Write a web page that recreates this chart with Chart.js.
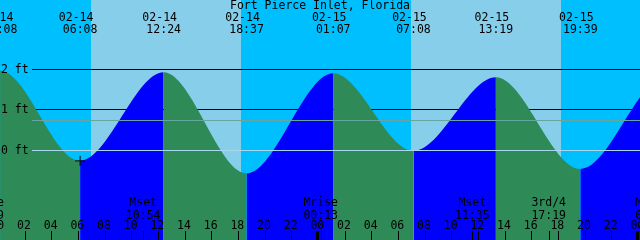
<!DOCTYPE html>
<html>
<head>
<meta charset="utf-8">
<script src="https://cdn.jsdelivr.net/npm/chart.js@4.4.1/dist/chart.umd.min.js"></script>
<style>
  html, body { margin: 0; padding: 0; background: #00bfff; overflow: hidden; }
  canvas { display: block; }
</style>
</head>
<body>
<canvas id="tide" width="640" height="240"></canvas>
<script>
const title = 'Fort Pierce Inlet, Florida';

// tide turning points, local time, heights in ft (first two and last two are off screen)
const tideDates = ['02-13', '02-13', '02-14', '02-14', '02-14', '02-14', '02-15', '02-15', '02-15', '02-15', '02-16', '02-16'];
const tideTimes = ['11:40', '17:52', '00:08', '06:08', '12:24', '18:37', '01:07', '07:08', '13:19', '19:39', '02:10', '08:15'];
const tideHeights = [1.9, -0.6, 1.97, -0.27, 1.93, -0.58, 1.91, -0.02, 1.81, -0.47, 1.85, 0.0];

// daylight
const sunDates = ['02-14', '02-15'];
const sunrise = ['06:57', '06:57'];
const sunset = ['18:13', '18:12'];

// moon events along the bottom
const moonDates = ['02-13', '02-14', '02-15', '02-15', '02-15', '02-16'];
const moonTimes = ['23:09', '10:54', '00:13', '11:35', '17:19', '01:06'];
const moonEvents = ['Mrise', 'Mset', 'Mrise', 'Mset', '3rd/4', 'Mrise'];

// height guides
const gridLevels = [2, 1, 0];
const gridLabels = ['2 ft', '1 ft', '0 ft'];
const meanLevel = 0.73;

// "+" marker
const markerDates = ['02-14'];
const markerTimes = ['06:08'];
const markerHeights = [-0.27];

const NIGHT = '#00bfff';
const DAY = '#87ceeb';
const FALL = '#2e8b57';
const RISE = '#0000ff';
const FONT = '11.5px "DejaVu Sans Mono"';

const dayIndex = { '02-13': -1, '02-14': 0, '02-15': 1, '02-16': 2 };
const toHours = (d, t) => {
  const [h, m] = t.split(':').map(Number);
  return dayIndex[d] * 24 + h + m / 60;
};

const tidePoints = tideDates.map((d, i) => ({ x: toHours(d, tideTimes[i]), y: tideHeights[i] }));
const markerPoints = markerDates.map((d, i) => ({ x: toHours(d, markerTimes[i]), y: markerHeights[i] }));

function hline(ctx, yScale, v, x0, x1) {
  const py = Math.floor(yScale.getPixelForValue(v)) + 0.5;
  ctx.beginPath();
  ctx.moveTo(x0, py);
  ctx.lineTo(x1, py);
  ctx.stroke();
}

const decor = {
  id: 'decor',
  beforeDatasetsDraw(chart) {
    const { ctx, chartArea: a, scales: { x, y } } = chart;
    ctx.save();
    ctx.fillStyle = NIGHT;
    ctx.fillRect(0, 0, chart.width, chart.height);
    ctx.fillStyle = DAY;
    sunDates.forEach((d, i) => {
      const x0 = Math.round(x.getPixelForValue(toHours(d, sunrise[i])));
      const x1 = Math.round(x.getPixelForValue(toHours(d, sunset[i])));
      ctx.fillRect(x0, a.top, x1 - x0, a.height);
    });
    // black guides go behind the water
    ctx.strokeStyle = '#000';
    ctx.lineWidth = 1;
    hline(ctx, y, gridLevels[0], 32, a.right);
    hline(ctx, y, gridLevels[1], 35, a.right);
    ctx.restore();
  },
  afterDatasetsDraw(chart) {
    const { ctx, chartArea: a, scales: { x, y } } = chart;
    ctx.save();
    ctx.lineWidth = 1;
    ctx.strokeStyle = '#66a5a0';
    hline(ctx, y, meanLevel, 32, a.right);
    ctx.strokeStyle = '#a8d8ec';
    hline(ctx, y, gridLevels[2], 32, a.right);

    ctx.fillStyle = '#000';
    ctx.font = FONT;
    ctx.textBaseline = 'alphabetic';

    // y labels
    ctx.textAlign = 'left';
    gridLevels.forEach((v, i) => {
      ctx.fillText(gridLabels[i], 1, Math.floor(y.getPixelForValue(v)) + 4);
    });

    ctx.textAlign = 'center';
    ctx.fillText(title, 320, 9);

    // tide times along the top
    tidePoints.forEach((p, i) => {
      if (p.x < 0 || p.x > 48) return;
      const px = x.getPixelForValue(p.x);
      ctx.fillText(tideDates[i], px - 4, 21);
      ctx.fillText(tideTimes[i], px, 33);
    });

    // moon events
    moonDates.forEach((d, i) => {
      const px = x.getPixelForValue(toHours(d, moonTimes[i]));
      ctx.fillText(moonEvents[i], px - 0.5, 206);
      ctx.fillText(moonTimes[i], px - 0.5, 219);
      ctx.fillRect(Math.floor(px), 231, 1, 9);
    });

    // hour ticks
    for (let h = 0; h <= 48; h += 2) {
      const px = x.getPixelForValue(h);
      ctx.fillText(String(h % 24).padStart(2, '0'), px - 1, 229);
      if (h % 24 === 0) ctx.fillRect(Math.round(px) - 2, 231, 3, 9);
      else ctx.fillRect(Math.floor(px), 231, 1, 9);
    }
    ctx.restore();
  }
};

new Chart(document.getElementById('tide'), {
  type: 'line',
  data: {
    datasets: [
      {
        data: tidePoints,
        order: 1,
        fill: 'start',
        backgroundColor: FALL,
        borderColor: 'rgba(0,0,0,0)',
        borderWidth: 0,
        pointRadius: 0,
        cubicInterpolationMode: 'monotone',
        segment: {
          backgroundColor: c => (c.p1.parsed.y > c.p0.parsed.y ? RISE : FALL)
        }
      },
      {
        data: markerPoints,
        order: 0,
        showLine: false,
        fill: false,
        pointStyle: 'cross',
        pointRadius: 5,
        borderColor: '#000',
        borderWidth: 1
      }
    ]
  },
  options: {
    responsive: false,
    devicePixelRatio: 1,
    animation: false,
    layout: { padding: 0, autoPadding: false },
    elements: { line: { capBezierPoints: false } },
    scales: {
      x: { type: 'linear', min: 0.125, max: 48.125, display: false },
      y: { type: 'linear', min: -2.236, max: 3.727, display: false }
    },
    plugins: { legend: { display: false }, tooltip: { enabled: false } }
  },
  plugins: [decor]
});
</script>
</body>
</html>
